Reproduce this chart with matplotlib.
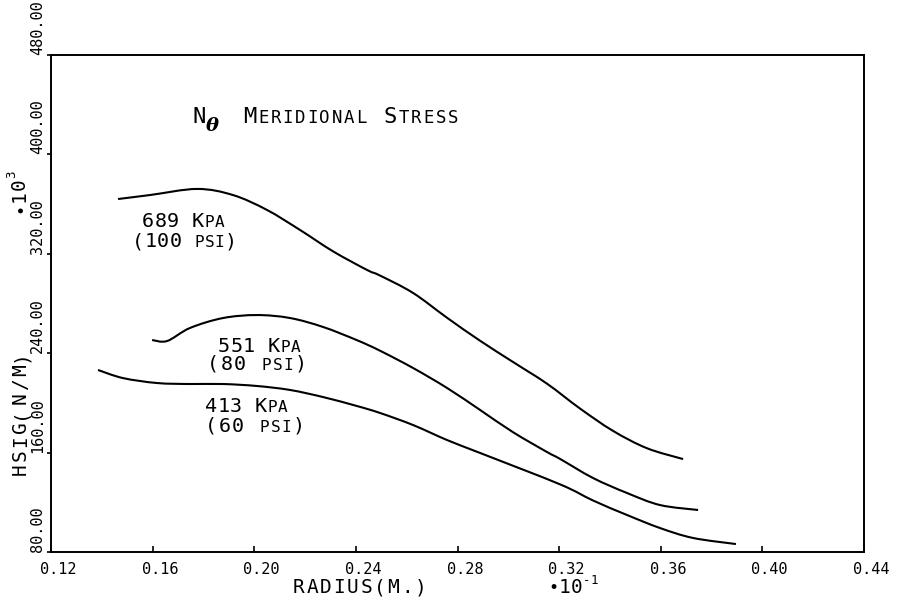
import numpy as np
import matplotlib.pyplot as plt
from matplotlib.path import Path
from matplotlib.patches import PathPatch
from matplotlib.transforms import IdentityTransform, ScaledTranslation

plt.rcParams['font.family'] = ['DejaVu Sans Mono', 'DejaVu Sans']

# radius (M, x10^-1) and hoop stress resultant (N/M, x10^3)
radius_100psi = [0.1464, 0.1590, 0.1775, 0.1916, 0.2050, 0.2180, 0.2310, 0.2444, 0.2495,
                 0.2625, 0.2759, 0.2889, 0.3018, 0.3152, 0.3282, 0.3412, 0.3546, 0.3688]
hsig_100psi = [364.1, 367.3, 372.2, 367.3, 355.3, 339.2, 322.0, 307.0, 302.5,
               288.5, 268.5, 250.0, 233.0, 215.5, 195.5, 177.5, 163.5, 154.8]

radius_80psi = [0.1598, 0.1657, 0.1747, 0.1877, 0.2011, 0.2141, 0.2271, 0.2404, 0.2495, 0.2625,
                0.2759, 0.2889, 0.3018, 0.3152, 0.3203, 0.3333, 0.3467, 0.3597, 0.3747]
hsig_80psi = [250.6, 249.8, 260.3, 268.3, 270.7, 268.3, 261.1, 250.5, 242.0, 228.1,
              212.0, 194.3, 176.5, 160.5, 155.0, 139.6, 127.5, 117.8, 113.8]

radius_60psi = [0.1385, 0.1483, 0.1617, 0.1747, 0.1877, 0.2011, 0.2141, 0.2271, 0.2404, 0.2495,
                0.2625, 0.2759, 0.2889, 0.3203, 0.3333, 0.3467, 0.3597, 0.3727, 0.3896]
hsig_60psi = [226.5, 220.0, 216.0, 215.2, 215.2, 213.6, 210.4, 204.7, 197.5, 191.9,
              182.2, 170.1, 159.7, 134.5, 121.5, 109.8, 99.3, 91.3, 86.4]

x_ticks = [0.12, 0.16, 0.20, 0.24, 0.28, 0.32, 0.36, 0.40, 0.44]
y_ticks = [80, 160, 240, 320, 400, 480]

W, H = 898, 598
fig = plt.figure(figsize=(W / 100, H / 100), dpi=100)
ax = fig.add_axes([51 / W, 1 - 552 / H, 813 / W, 497 / H])


def smooth_curve(ax, xs, ys):
    # Catmull-Rom through the read points, drawn as cubic Bezier segments
    p = np.column_stack([xs, ys])
    p = np.vstack([p[0], p, p[-1]])
    verts = [p[1]]
    codes = [Path.MOVETO]
    for i in range(1, len(p) - 2):
        c1 = p[i] + (p[i + 1] - p[i - 1]) / 6
        c2 = p[i + 1] - (p[i + 2] - p[i]) / 6
        verts += [c1, c2, p[i + 1]]
        codes += [Path.CURVE4] * 3
    ax.add_patch(PathPatch(Path(verts, codes), fill=False, edgecolor='black', lw=1.5))


for r, s in [(radius_100psi, hsig_100psi), (radius_80psi, hsig_80psi), (radius_60psi, hsig_60psi)]:
    smooth_curve(ax, r, s)

ax.set_xlim(0.12, 0.44)
ax.set_ylim(80, 480)
for sp in ax.spines.values():
    sp.set_linewidth(1.4)

ax.set_xticks(x_ticks)
ax.set_xticklabels(['%.2f' % v for v in x_ticks])
ax.set_yticks(y_ticks)
ax.set_yticklabels(['%.2f' % v for v in y_ticks], rotation=90, va='bottom')
ax.tick_params(axis='x', direction='in', length=4, width=1.2, labelsize=11, pad=7)
ax.tick_params(axis='y', direction='out', length=3, width=1.2, labelsize=11, pad=1.5)
shift = ScaledTranslation(-11 / 100, 0, fig.dpi_scale_trans)
for lab in ax.get_xticklabels():
    lab.set_ha('left')
    lab.set_transform(lab.get_transform() + shift)


def put(x, y, pieces, track=0.0, vertical=False):
    # write text char by char (monospace) so the letter spacing of the
    # plotter font can be imitated; x, y are image pixels, y from top
    for s, size, dy in pieces:
        adv = 0.602 * size * 100 / 72 + track
        for ch in s:
            if vertical:
                fig.text(x - dy, H - y, ch, fontsize=size, rotation=90,
                         rotation_mode='anchor', ha='left', va='baseline',
                         transform=IdentityTransform())
                y -= adv
            else:
                fig.text(x, H - y + dy, ch, fontsize=size, ha='left', va='baseline',
                         transform=IdentityTransform())
                x += adv


big, small = 14.5, 11.5

# title
put(193, 123, [('N', 16, 0)], track=1)
fig.text(206, H - 131, '\u03b8', fontsize=14, fontweight='bold', fontstyle='italic',
         family='DejaVu Serif', ha='left', va='baseline', transform=IdentityTransform())
put(243, 123, [('M', 16, 0), ('ERIDIONAL', 12.5, 0), (' S', 16, 0), ('TRESS', 12.5, 0)], track=1.8)

# curve labels
put(142, 227, [('689 K', big, 0), ('PA', small, 0)], track=0.4)
put(132, 247, [('(100 ', big, 0), ('PSI', small, 0), (')', big, 0)], track=0.4)
put(218, 352, [('551 K', big, 0), ('PA', small, 0)], track=0.4)
put(207, 370, [('(80 ', big, 0), ('PSI', small, 0), (')', big, 0)], track=1.5)
put(205, 412, [('413 K', big, 0), ('PA', small, 0)], track=0.4)
put(205, 432, [('(60 ', big, 0), ('PSI', small, 0), (')', big, 0)], track=1.5)

# axis labels
put(293, 593, [('RADIUS(M.)', 14, 0)], track=1.8)
put(548, 593, [('\u2022', 12, 0), ('10', 14, 0), ('-1', 9, 9)], track=0.5)
put(26, 475, [('HSIG(N/M)', 14, 0)], track=2.4, vertical=True)
put(25, 213, [('\u2022', 12, 0), ('10', 14, 0), ('3', 9, 10)], track=0.5, vertical=True)

fig.savefig('out.png', dpi=100)
